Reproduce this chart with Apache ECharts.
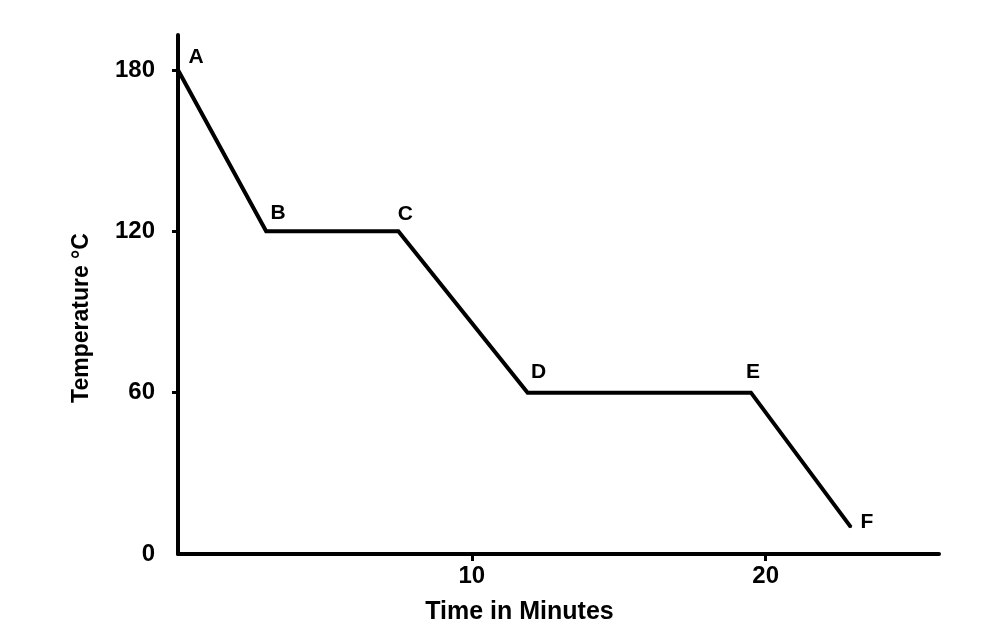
<!DOCTYPE html>
<html>
<head>
<meta charset="utf-8">
<script src="https://cdn.jsdelivr.net/npm/echarts@6/dist/echarts.min.js"></script>
<style>html,body{margin:0;padding:0;background:#fff}#c{width:992px;height:642px}</style>
</head>
<body>
<div id="c"></div>
<script>
// Data
const pointNames = ['A', 'B', 'C', 'D', 'E', 'F'];
const timeMinutes = [0, 3, 7.5, 11.9, 19.5, 22.9];
const temperatureC = [180, 120, 120, 60, 60, 10];
const xTickValues = [10, 20];
const yTickValues = [0, 60, 120, 180];
const yTickMarks = [60, 120, 180];
// label placement (style only)
const labelOffsets = [[18, -13], [12, -18], [7, -17], [11, -20], [2, -20], [16, -5]];

const FONT = '"Liberation Sans", Arial, sans-serif';
const chart = echarts.init(document.getElementById('c'));
chart.setOption({
  backgroundColor: '#fff',
  animation: false,
  grid: { left: 178, right: 53, top: 35, bottom: 88, containLabel: false, outerBoundsMode: 'none' },
  xAxis: {
    type: 'value', min: 0, max: 25.9, interval: 10,
    name: 'Time in Minutes', nameLocation: 'middle', nameGap: 46,
    nameTextStyle: { fontFamily: FONT, fontSize: 25, fontWeight: 'bold', color: '#000', padding: [0, 78, 0, 0] },
    axisLine: { lineStyle: { color: '#000', width: 4 } },
    axisTick: { show: true, length: 7, customValues: xTickValues, lineStyle: { color: '#000', width: 3 } },
    splitLine: { show: false },
    axisLabel: {
      margin: 10, fontFamily: FONT, fontSize: 24, fontWeight: 'bold', color: '#000',
      customValues: xTickValues,
      formatter: v => String(v)
    }
  },
  yAxis: {
    type: 'value', min: 0, max: 193, interval: 60,
    name: 'Temperature °C', nameLocation: 'middle', nameGap: 85, nameRotate: 90,
    nameTextStyle: { fontFamily: FONT, fontSize: 23, fontWeight: 'bold', color: '#000', padding: [0, 47, 0, 0] },
    axisLine: { show: true, lineStyle: { color: '#000', width: 4 } },
    axisTick: { show: true, length: 6, customValues: yTickMarks, lineStyle: { color: '#000', width: 3 } },
    splitLine: { show: false },
    axisLabel: {
      margin: 23, fontFamily: FONT, fontSize: 24, fontWeight: 'bold', color: '#000',
      customValues: yTickValues,
      formatter: v => String(v)
    }
  },
  series: [{
    type: 'line',
    data: timeMinutes.map((t, i) => ({
      value: [t, temperatureC[i]],
      name: pointNames[i],
      label: { offset: labelOffsets[i] }
    })),
    symbol: 'circle', symbolSize: 2, showSymbol: true,
    itemStyle: { color: '#000' },
    lineStyle: { color: '#000', width: 4, join: 'miter' },
    label: {
      show: true, position: 'inside', formatter: p => p.name,
      fontFamily: FONT, fontSize: 21, fontWeight: 'bold', color: '#000'
    }
  }]
});
</script>
</body>
</html>
